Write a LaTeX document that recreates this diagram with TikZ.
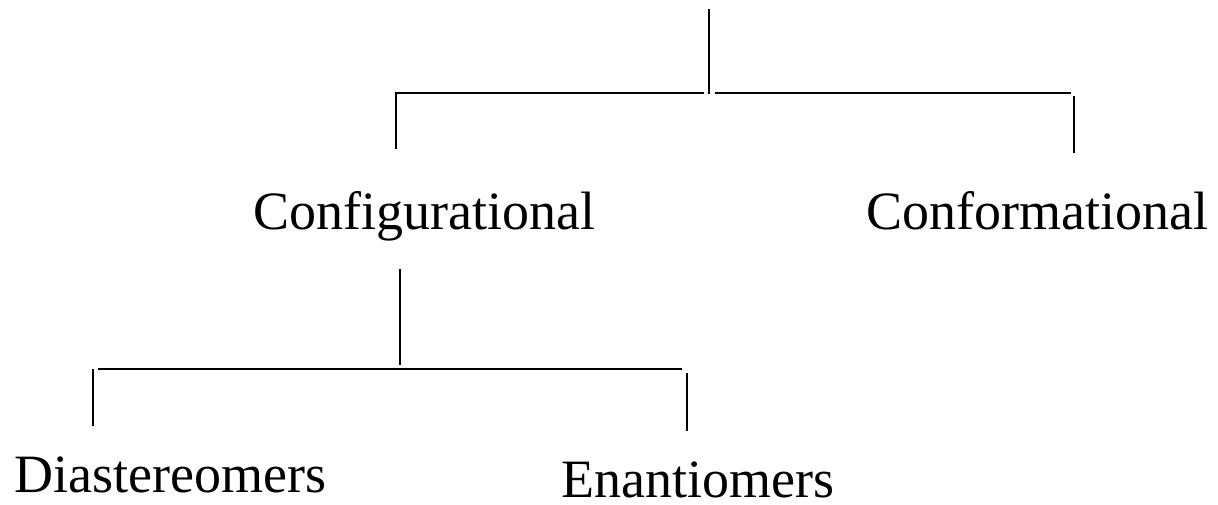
\documentclass[tikz,border=0pt]{standalone}
\usepackage{fontspec}
\setmainfont{Liberation Serif}
\begin{document}
\begin{tikzpicture}[x=0.75pt,y=-0.75pt,
  bar/.style={line width=1.9pt,line cap=butt},
  term/.style={inner sep=0pt,anchor=base west,font=\fontsize{40.5pt}{48pt}\selectfont}]
\useasboundingbox[fill=white] (0,0) rectangle (1218,504);

% class labels
\node[term] (cfg)  at (253,229) {Configurational};
\node[term] (cnf)  at (866,229) {Conformational};
\node[term] (dia)  at (14,492)  {Diastereomers};
\node[term] (ena)  at (561,497) {Enantiomers};

% upper bracket
\coordinate (rootTop) at (709,9);
\coordinate (rootBot) at (709,94);
\coordinate (barLR)   at (704,93);
\coordinate (barLL)   at (396,93);
\coordinate (legL)    at (396,149);
\coordinate (barRL)   at (715,93);
\coordinate (barRR)   at (1071,93);
\coordinate (legRT)   at (1074,96);
\coordinate (legRB)   at (1074,153);

\draw[bar] (rootTop) -- (rootBot);
\draw[bar] (barLR) -- (barLL) -- (legL);
\draw[bar] (barRL) -- (barRR);
\draw[bar] (legRT) -- (legRB);

% lower bracket under Configurational
\coordinate (stemTop) at (400,269);
\coordinate (stemBot) at (400,365);
\coordinate (hL)      at (98,369);
\coordinate (hR)      at (682,369);
\coordinate (dLT)     at (93,369);
\coordinate (dLB)     at (93,426);
\coordinate (eLT)     at (687,373);
\coordinate (eLB)     at (687,431);

\draw[bar] (stemTop) -- (stemBot);
\draw[bar] (hL) -- (hR);
\draw[bar] (dLT) -- (dLB);
\draw[bar] (eLT) -- (eLB);
\end{tikzpicture}
\end{document}
